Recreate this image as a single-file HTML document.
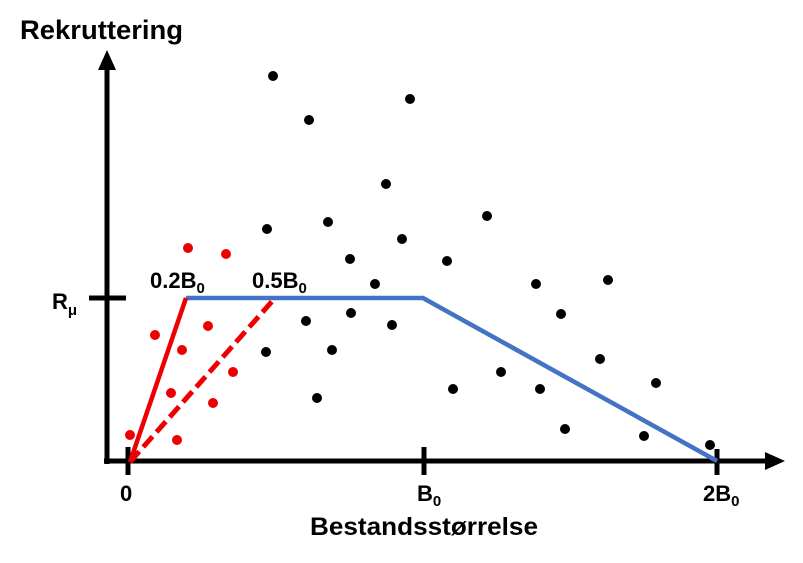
<!DOCTYPE html><html><head><style>body{margin:0;background:#fff}svg{display:block}text{font-family:"Liberation Sans",sans-serif;font-weight:bold;fill:#000}</style></head><body>
<svg width="803" height="563" viewBox="0 0 803 563">
<text x="20" y="39" font-size="27" textLength="163" lengthAdjust="spacingAndGlyphs">Rekruttering</text>
<line x1="107" y1="60" x2="107" y2="464" stroke="#000" stroke-width="5"/>
<polygon points="107,50 98,70 116,70" fill="#000"/>
<line x1="104" y1="461" x2="770" y2="461" stroke="#000" stroke-width="5"/>
<polygon points="785,461 765,452 765,470" fill="#000"/>
<line x1="89" y1="298" x2="126" y2="298" stroke="#000" stroke-width="5"/>
<line x1="128" y1="447" x2="128" y2="475" stroke="#000" stroke-width="5"/>
<line x1="424" y1="447" x2="424" y2="475" stroke="#000" stroke-width="5"/>
<line x1="717" y1="449" x2="717" y2="475" stroke="#000" stroke-width="5"/>
<text x="52" y="309" font-size="22">R<tspan font-size="15" dy="6">μ</tspan></text>
<text x="120" y="501" font-size="22">0</text>
<text x="417" y="501" font-size="22">B<tspan font-size="15" dy="5">0</tspan></text>
<text x="703" y="501" font-size="22">2B<tspan font-size="15" dy="5">0</tspan></text>
<text x="310" y="535" font-size="25" textLength="228" lengthAdjust="spacingAndGlyphs">Bestandsstørrelse</text>
<text x="150" y="288" font-size="22">0.2B<tspan font-size="15" dy="5">0</tspan></text>
<text x="252" y="288" font-size="22">0.5B<tspan font-size="15" dy="5">0</tspan></text>
<polyline points="186,298 423,298 717,461" fill="none" stroke="#4472c4" stroke-width="4.5"/>
<line x1="130" y1="462" x2="186" y2="298" stroke="#e00" stroke-width="4.5"/>
<line x1="130" y1="462" x2="275" y2="298" stroke="#e00" stroke-width="5" stroke-dasharray="14,6"/>
<g fill="#e00">
<circle cx="188" cy="248" r="5"/><circle cx="226" cy="254" r="5"/><circle cx="155" cy="335" r="5"/><circle cx="182" cy="350" r="5"/><circle cx="208" cy="326" r="5"/><circle cx="233" cy="372" r="5"/><circle cx="171" cy="393" r="5"/><circle cx="213" cy="403" r="5"/><circle cx="130" cy="435" r="5"/><circle cx="177" cy="440" r="5"/>
</g>
<g fill="#000">
<circle cx="273" cy="76" r="5"/><circle cx="410" cy="99" r="5"/><circle cx="309" cy="120" r="5"/><circle cx="386" cy="184" r="5"/><circle cx="487" cy="216" r="5"/><circle cx="328" cy="222" r="5"/><circle cx="267" cy="229" r="5"/><circle cx="402" cy="239" r="5"/><circle cx="447" cy="261" r="5"/><circle cx="350" cy="259" r="5"/><circle cx="375" cy="284" r="5"/><circle cx="536" cy="284" r="5"/><circle cx="608" cy="280" r="5"/><circle cx="306" cy="321" r="5"/><circle cx="351" cy="313" r="5"/><circle cx="392" cy="325" r="5"/><circle cx="561" cy="314" r="5"/><circle cx="266" cy="352" r="5"/><circle cx="332" cy="350" r="5"/><circle cx="600" cy="359" r="5"/><circle cx="453" cy="389" r="5"/><circle cx="501" cy="372" r="5"/><circle cx="540" cy="389" r="5"/><circle cx="656" cy="383" r="5"/><circle cx="317" cy="398" r="5"/><circle cx="565" cy="429" r="5"/><circle cx="644" cy="436" r="5"/><circle cx="710" cy="445" r="5"/>
</g>
</svg></body></html>
